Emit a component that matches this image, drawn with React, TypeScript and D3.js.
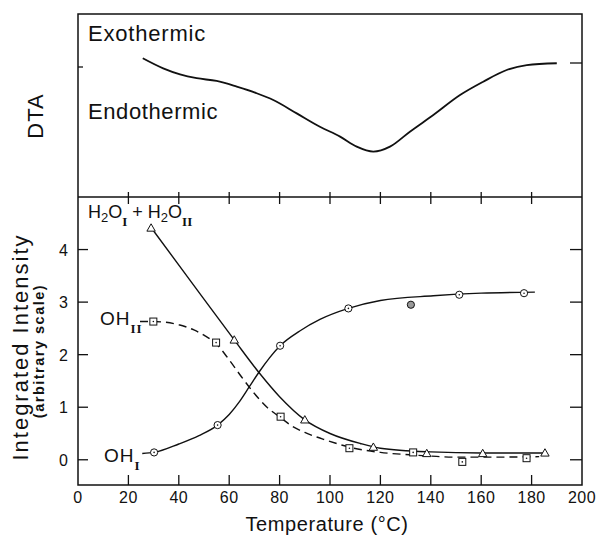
import React from "react";
import * as d3 from "d3";

// ---------- data ----------
const xTicks = [0, 20, 40, 60, 80, 100, 120, 140, 160, 180, 200];
const yTicks = [0, 1, 2, 3, 4];

// DTA trace (arbitrary units, 0 = bottom of panel, 100 = top)
const dtaCurve: [number, number][] = [
  [25.7, 75.8], [33.8, 70.3], [40.5, 67.0], [47.1, 64.9], [55.0, 63.4], [63.0, 60.3],
  [70.9, 56.7], [77.5, 53.0], [86.8, 45.7], [96.0, 38.4], [104.0, 33.0], [110.6, 27.5],
  [117.2, 24.8], [123.8, 27.5], [131.7, 35.7], [141.0, 44.8], [151.6, 55.7], [160.8, 63.0],
  [170.1, 69.4], [178.1, 72.1], [190.0, 73.1],
];

// H2O_I + H2O_II (triangles, solid)
const h2oPoints: [number, number][] = [
  [29, 4.41], [62, 2.28], [90, 0.76], [117.2, 0.24], [138.4, 0.12], [160.6, 0.12], [185.3, 0.13],
];
const h2oCurve: [number, number][] = [
  [29, 4.42], [45, 3.38], [62, 2.28], [71.8, 1.66], [80, 1.2], [90, 0.76], [100, 0.5],
  [112, 0.31], [120, 0.22], [140, 0.15], [160, 0.13], [186, 0.13],
];

// OH_II (squares, dashed)
const oh2Points: [number, number][] = [
  [29.9, 2.63], [54.8, 2.23], [80.4, 0.82], [107.7, 0.22], [133, 0.14], [152.5, -0.04], [178, 0.03],
];
const oh2Curve: [number, number][] = [
  [24.6, 2.63], [30, 2.63], [40, 2.57], [46, 2.47], [50, 2.37], [55, 2.2], [60, 1.9],
  [65, 1.57], [70, 1.26], [75, 1.0], [80.4, 0.8], [85, 0.64], [90, 0.52], [98.7, 0.37],
  [107.7, 0.24], [120, 0.14], [130, 0.1], [140, 0.07], [150, 0.05], [165, 0.05], [183, 0.06],
];

// OH_I (circles, solid)
const oh1Points: [number, number][] = [
  [30.2, 0.14], [55.4, 0.66], [80.2, 2.17], [107.3, 2.88], [132.1, 2.95], [151.3, 3.14], [177, 3.17],
];
const oh1Filled = [false, false, false, false, true, false, false];
const oh1Curve: [number, number][] = [
  [25.5, 0.12], [30.2, 0.14], [40, 0.3], [48, 0.46], [55.4, 0.66], [60, 0.86], [64, 1.1],
  [68, 1.39], [72, 1.68], [76, 1.94], [80.2, 2.17], [88, 2.45], [96, 2.67], [107.3, 2.88],
  [120, 3.03], [141, 3.12], [160, 3.17], [181.3, 3.19],
];

// ---------- layout ----------
const W = 601, H = 536;
const L = 78, R = 582, T = 14, MID = 197, B = 485;
const FONT = "'Liberation Sans', Arial, sans-serif";

export default function App() {
  const x = d3.scaleLinear().domain([0, 200]).range([L, R]);
  const yLow = d3.scaleLinear().domain([-0.48, 5]).range([B, MID]);
  const yTop = d3.scaleLinear().domain([0, 100]).range([MID, T]);

  const lineLow = d3.line<[number, number]>().x(d => x(d[0])).y(d => yLow(d[1])).curve(d3.curveMonotoneX);
  const lineTop = d3.line<[number, number]>().x(d => x(d[0])).y(d => yTop(d[1])).curve(d3.curveMonotoneX);

  const tri = (cx: number, cy: number) => {
    const s = 4.2;
    return `M${cx},${cy - s}L${cx + s},${cy + s * 0.75}L${cx - s},${cy + s * 0.75}Z`;
  };

  const stroke = "#111";

  return (
    <svg width={W} height={H} style={{ position: "absolute", left: 0, top: 0, background: "#fff" }} fontFamily={FONT}>
      <rect x={0} y={0} width={W} height={H} fill="#fff" />
      {/* frame */}
      <rect x={L} y={T} width={R - L} height={B - T} fill="none" stroke={stroke} strokeWidth={1.5} />
      <line x1={L} x2={R} y1={MID} y2={MID} stroke={stroke} strokeWidth={1.5} />

      {/* divider ticks */}
      {xTicks.slice(1, -1).map(t => (
        <line key={"dt" + t} x1={x(t)} x2={x(t)} y1={MID - 5} y2={MID + 7} stroke={stroke} strokeWidth={1.3} />
      ))}
      {/* bottom ticks */}
      {xTicks.slice(1, -1).map(t => (
        <line key={"bt" + t} x1={x(t)} x2={x(t)} y1={B} y2={B - 10} stroke={stroke} strokeWidth={1.3} />
      ))}
      {/* bottom tick labels */}
      {xTicks.map(t => (
        <text key={"bl" + t} x={x(t)} y={503} fontSize={16} textAnchor="middle" fill={stroke} letterSpacing={0.5}>{t}</text>
      ))}
      {/* left/right ticks lower panel */}
      {yTicks.map(t => (
        <g key={"yt" + t}>
          <line x1={L} x2={L + 10} y1={yLow(t)} y2={yLow(t)} stroke={stroke} strokeWidth={1.3} />
          <line x1={R - 12} x2={R} y1={yLow(t)} y2={yLow(t)} stroke={stroke} strokeWidth={1.3} />
          <text x={68} y={yLow(t) + 6} fontSize={16} textAnchor="end" fill={stroke}>{t}</text>
        </g>
      ))}
      {/* upper panel ticks */}
      <line x1={L} x2={L + 5} y1={67} y2={67} stroke={stroke} strokeWidth={1.3} />
      <line x1={R - 12} x2={R} y1={63} y2={63} stroke={stroke} strokeWidth={1.3} />

      {/* DTA curve */}
      <path d={lineTop(dtaCurve) || ""} fill="none" stroke={stroke} strokeWidth={1.8} />

      {/* curves */}
      <path d={lineLow(h2oCurve) || ""} fill="none" stroke={stroke} strokeWidth={1.4} />
      <path d={lineLow(oh2Curve) || ""} fill="none" stroke={stroke} strokeWidth={1.4} strokeDasharray="8,5" />
      <path d={lineLow(oh1Curve) || ""} fill="none" stroke={stroke} strokeWidth={1.4} />

      {/* markers */}
      {h2oPoints.map((p, i) => (
        <path key={"tr" + i} d={tri(x(p[0]), yLow(p[1]))} fill="#fff" stroke={stroke} strokeWidth={1} />
      ))}
      {oh2Points.map((p, i) => (
        <g key={"sq" + i}>
          <rect x={x(p[0]) - 3.5} y={yLow(p[1]) - 3.5} width={7} height={7} fill="#fff" stroke={stroke} strokeWidth={1} />
          <circle cx={x(p[0])} cy={yLow(p[1])} r={0.8} fill={stroke} />
        </g>
      ))}
      {oh1Points.map((p, i) => (
        <g key={"ci" + i}>
          <circle cx={x(p[0])} cy={yLow(p[1])} r={3.6} fill={oh1Filled[i] ? "#999" : "#fff"} stroke={stroke} strokeWidth={1} />
          {!oh1Filled[i] && <circle cx={x(p[0])} cy={yLow(p[1])} r={0.8} fill={stroke} />}
        </g>
      ))}

      {/* upper panel labels */}
      <text x={88} y={41} fontSize={22} letterSpacing={0.8} fill={stroke}>Exothermic</text>
      <text x={88} y={119} fontSize={22} letterSpacing={0.6} fill={stroke}>Endothermic</text>
      <text transform="translate(43,116) rotate(-90)" fontSize={22} letterSpacing={1} textAnchor="middle" fill={stroke}>DTA</text>

      {/* series labels */}
      <text x={88} y={218} fontSize={18} fill={stroke}>
        H<tspan fontSize={13} dy={4}>2</tspan>
        <tspan dy={-4}>O</tspan>
        <tspan fontSize={13} dy={8} fontFamily="'Liberation Serif', serif" fontWeight="bold">I</tspan>
        <tspan dy={-8}> + H</tspan>
        <tspan fontSize={13} dy={4}>2</tspan>
        <tspan dy={-4}>O</tspan>
        <tspan fontSize={13} dy={8} fontFamily="'Liberation Serif', serif" fontWeight="bold">II</tspan>
      </text>
      <text x={100} y={325} fontSize={19} fill={stroke} letterSpacing={1}>
        OH<tspan fontSize={13} dy={8} fontFamily="'Liberation Serif', serif" fontWeight="bold">II</tspan>
      </text>
      <text x={104} y={462} fontSize={19} fill={stroke} letterSpacing={1}>
        OH<tspan fontSize={13} dy={8} fontFamily="'Liberation Serif', serif" fontWeight="bold">I</tspan>
      </text>

      {/* axis titles */}
      <text transform="translate(28,347) rotate(-90)" fontSize={22} letterSpacing={2} textAnchor="middle" fill={stroke}>Integrated Intensity</text>
      <text transform="translate(44,351) rotate(-90)" fontSize={14.5} fontWeight="bold" letterSpacing={1.5} textAnchor="middle" fill={stroke}>(arbitrary scale)</text>
      <text x={327} y={531} fontSize={20} letterSpacing={0.6} textAnchor="middle" fill={stroke}>Temperature (°C)</text>
    </svg>
  );
}
